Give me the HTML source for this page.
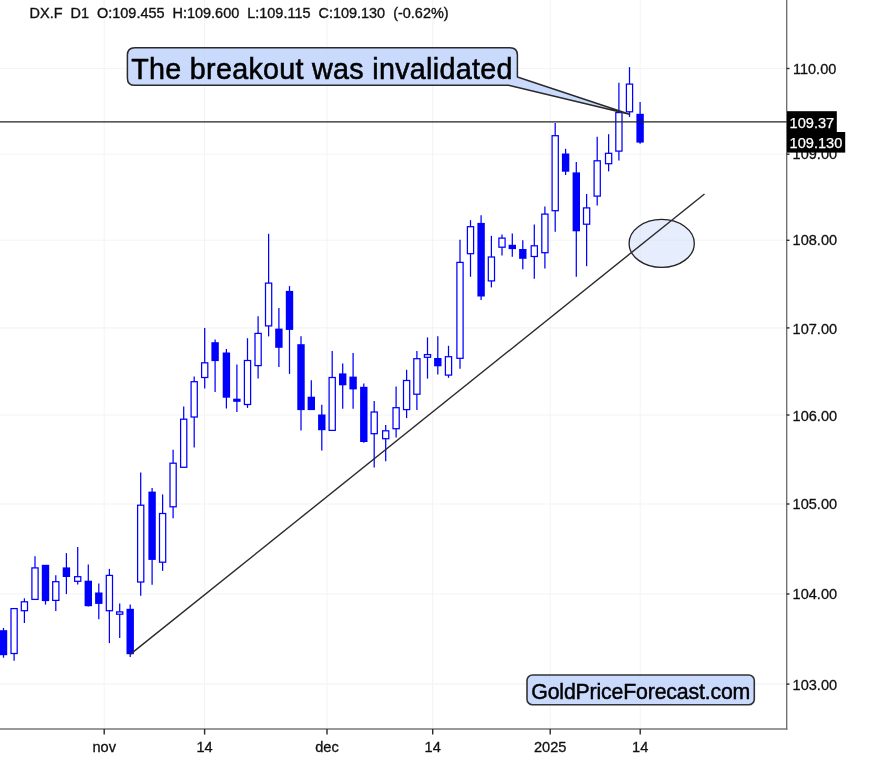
<!DOCTYPE html>
<html lang="en"><head><meta charset="utf-8"><title>DX.F D1</title>
<style>html,body{margin:0;padding:0;background:#fff;}body{width:875px;height:760px;overflow:hidden;}svg{display:block;}text{font-family:"Liberation Sans",Arial,Helvetica,sans-serif;}</style></head><body>
<svg width="875" height="760" viewBox="0 0 875 760">
<rect width="875" height="760" fill="#fff"/>
<g stroke="#f4f4f4" stroke-width="1.1" fill="none">
<line x1="104.2" y1="0" x2="104.2" y2="729.0"/>
<line x1="204.6" y1="0" x2="204.6" y2="729.0"/>
<line x1="327.0" y1="0" x2="327.0" y2="729.0"/>
<line x1="432.7" y1="0" x2="432.7" y2="729.0"/>
<line x1="550.2" y1="0" x2="550.2" y2="729.0"/>
<line x1="640.2" y1="0" x2="640.2" y2="729.0"/>
<line x1="0" y1="68.5" x2="786.7" y2="68.5"/>
<line x1="0" y1="154.2" x2="786.7" y2="154.2"/>
<line x1="0" y1="240.3" x2="786.7" y2="240.3"/>
<line x1="0" y1="327.9" x2="786.7" y2="327.9"/>
<line x1="0" y1="415.0" x2="786.7" y2="415.0"/>
<line x1="0" y1="504.0" x2="786.7" y2="504.0"/>
<line x1="0" y1="594.0" x2="786.7" y2="594.0"/>
<line x1="0" y1="684.1" x2="786.7" y2="684.1"/>
</g>
<g stroke="#0000ff" stroke-width="1.25" fill="#fff">
<line x1="3.5" y1="628.0" x2="3.5" y2="657.7"/>
<rect x="-0.20" y="630.20" width="7.4" height="25.00" fill="#0000ff" stroke="none"/>
<line x1="14.1" y1="608.4" x2="14.1" y2="660.7"/>
<rect x="11.00" y="608.60" width="6.20" height="44.90"/>
<line x1="24.4" y1="598.3" x2="24.4" y2="623.0"/>
<rect x="21.30" y="601.80" width="6.20" height="8.90"/>
<line x1="35.0" y1="556.3" x2="35.0" y2="599.6"/>
<rect x="31.90" y="567.90" width="6.20" height="31.50"/>
<line x1="45.5" y1="565.1" x2="45.5" y2="604.6"/>
<rect x="41.80" y="564.80" width="7.4" height="36.30" fill="#0000ff" stroke="none"/>
<line x1="55.8" y1="575.2" x2="55.8" y2="610.9"/>
<rect x="52.70" y="581.70" width="6.20" height="18.70"/>
<line x1="66.4" y1="553.1" x2="66.4" y2="594.1"/>
<rect x="62.70" y="567.40" width="7.4" height="9.60" fill="#0000ff" stroke="none"/>
<line x1="77.7" y1="547.0" x2="77.7" y2="584.5"/>
<rect x="74.60" y="576.70" width="6.20" height="4.60"/>
<line x1="88.3" y1="564.6" x2="88.3" y2="606.6"/>
<rect x="84.60" y="580.70" width="7.4" height="25.50" fill="#0000ff" stroke="none"/>
<line x1="98.8" y1="583.5" x2="98.8" y2="619.2"/>
<rect x="95.10" y="592.50" width="7.4" height="11.40" fill="#0000ff" stroke="none"/>
<line x1="109.4" y1="568.9" x2="109.4" y2="643.1"/>
<rect x="106.30" y="575.40" width="6.20" height="35.30"/>
<line x1="119.7" y1="603.4" x2="119.7" y2="638.1"/>
<rect x="116.60" y="611.90" width="6.20" height="2.30"/>
<line x1="130.2" y1="604.6" x2="130.2" y2="656.9"/>
<rect x="126.50" y="608.80" width="7.4" height="45.40" fill="#0000ff" stroke="none"/>
<line x1="140.7" y1="472.5" x2="140.7" y2="595.8"/>
<rect x="137.60" y="505.20" width="6.20" height="76.80"/>
<line x1="152.1" y1="488.1" x2="152.1" y2="584.8"/>
<rect x="148.40" y="491.60" width="7.4" height="68.30" fill="#0000ff" stroke="none"/>
<line x1="162.6" y1="494.4" x2="162.6" y2="570.9"/>
<rect x="159.50" y="513.50" width="6.20" height="48.70"/>
<line x1="173.1" y1="449.7" x2="173.1" y2="518.3"/>
<rect x="170.00" y="463.20" width="6.20" height="43.60"/>
<line x1="183.7" y1="406.5" x2="183.7" y2="467.5"/>
<rect x="180.60" y="419.20" width="6.20" height="48.10"/>
<line x1="194.2" y1="376.4" x2="194.2" y2="447.4"/>
<rect x="191.10" y="381.70" width="6.20" height="35.30"/>
<line x1="204.7" y1="328.1" x2="204.7" y2="388.6"/>
<rect x="201.60" y="362.80" width="6.20" height="14.70"/>
<line x1="215.1" y1="339.4" x2="215.1" y2="392.0"/>
<rect x="211.40" y="342.20" width="7.4" height="18.90" fill="#0000ff" stroke="none"/>
<line x1="226.4" y1="349.0" x2="226.4" y2="408.5"/>
<rect x="222.70" y="352.50" width="7.4" height="45.20" fill="#0000ff" stroke="none"/>
<line x1="236.9" y1="364.6" x2="236.9" y2="411.9"/>
<rect x="233.20" y="398.70" width="7.4" height="3.10" fill="#0000ff" stroke="none"/>
<line x1="247.5" y1="338.2" x2="247.5" y2="407.9"/>
<rect x="244.40" y="360.50" width="6.20" height="44.00"/>
<line x1="258.1" y1="316.3" x2="258.1" y2="378.4"/>
<rect x="255.00" y="333.40" width="6.20" height="32.20"/>
<line x1="268.6" y1="233.8" x2="268.6" y2="336.4"/>
<rect x="265.50" y="283.10" width="6.20" height="42.80"/>
<line x1="278.9" y1="308.0" x2="278.9" y2="367.1"/>
<rect x="275.20" y="328.60" width="7.4" height="19.20" fill="#0000ff" stroke="none"/>
<line x1="289.5" y1="286.1" x2="289.5" y2="373.9"/>
<rect x="285.80" y="290.90" width="7.4" height="39.00" fill="#0000ff" stroke="none"/>
<line x1="301.0" y1="336.3" x2="301.0" y2="430.5"/>
<rect x="297.30" y="344.20" width="7.4" height="65.90" fill="#0000ff" stroke="none"/>
<line x1="311.3" y1="380.3" x2="311.3" y2="409.8"/>
<rect x="307.60" y="396.70" width="7.4" height="13.40" fill="#0000ff" stroke="none"/>
<line x1="321.8" y1="404.7" x2="321.8" y2="450.6"/>
<rect x="318.10" y="414.50" width="7.4" height="15.70" fill="#0000ff" stroke="none"/>
<line x1="332.2" y1="350.9" x2="332.2" y2="430.6"/>
<rect x="329.10" y="377.50" width="6.20" height="52.90"/>
<line x1="342.7" y1="363.4" x2="342.7" y2="408.8"/>
<rect x="339.00" y="373.40" width="7.4" height="11.90" fill="#0000ff" stroke="none"/>
<line x1="353.1" y1="353.0" x2="353.1" y2="408.8"/>
<rect x="349.40" y="376.60" width="7.4" height="12.80" fill="#0000ff" stroke="none"/>
<line x1="363.8" y1="383.4" x2="363.8" y2="442.7"/>
<rect x="360.10" y="386.80" width="7.4" height="55.20" fill="#0000ff" stroke="none"/>
<line x1="374.2" y1="401.1" x2="374.2" y2="467.6"/>
<rect x="371.10" y="412.00" width="6.20" height="21.70"/>
<line x1="385.7" y1="425.1" x2="385.7" y2="461.3"/>
<rect x="382.60" y="430.80" width="6.20" height="7.90"/>
<line x1="396.1" y1="386.6" x2="396.1" y2="437.4"/>
<rect x="393.00" y="407.70" width="6.20" height="21.00"/>
<line x1="406.6" y1="369.8" x2="406.6" y2="418.1"/>
<rect x="403.50" y="380.50" width="6.20" height="29.10"/>
<line x1="416.9" y1="350.9" x2="416.9" y2="410.0"/>
<rect x="413.80" y="358.70" width="6.20" height="35.50"/>
<line x1="427.5" y1="337.4" x2="427.5" y2="378.6"/>
<rect x="424.40" y="354.60" width="6.20" height="2.70"/>
<line x1="437.8" y1="336.3" x2="437.8" y2="374.6"/>
<rect x="434.10" y="358.00" width="7.4" height="8.30" fill="#0000ff" stroke="none"/>
<line x1="448.5" y1="345.8" x2="448.5" y2="377.8"/>
<rect x="445.40" y="356.70" width="6.20" height="18.40"/>
<line x1="460.0" y1="239.8" x2="460.0" y2="368.8"/>
<rect x="456.90" y="262.40" width="6.20" height="95.90"/>
<line x1="470.5" y1="220.2" x2="470.5" y2="276.8"/>
<rect x="467.40" y="226.70" width="6.20" height="27.00"/>
<line x1="481.1" y1="215.2" x2="481.1" y2="299.9"/>
<rect x="477.40" y="222.90" width="7.4" height="73.60" fill="#0000ff" stroke="none"/>
<line x1="491.4" y1="235.8" x2="491.4" y2="287.4"/>
<rect x="488.30" y="257.00" width="6.20" height="23.90"/>
<line x1="502.0" y1="234.6" x2="502.0" y2="255.4"/>
<rect x="498.90" y="238.10" width="6.20" height="9.10"/>
<line x1="512.3" y1="233.6" x2="512.3" y2="256.7"/>
<rect x="508.60" y="244.80" width="7.4" height="4.30" fill="#0000ff" stroke="none"/>
<line x1="522.8" y1="240.3" x2="522.8" y2="269.3"/>
<rect x="519.10" y="249.00" width="7.4" height="9.80" fill="#0000ff" stroke="none"/>
<line x1="534.3" y1="224.4" x2="534.3" y2="278.8"/>
<rect x="531.20" y="245.80" width="6.20" height="10.70"/>
<line x1="544.9" y1="206.5" x2="544.9" y2="268.5"/>
<rect x="541.80" y="214.10" width="6.20" height="38.60"/>
<line x1="555.2" y1="122.9" x2="555.2" y2="231.7"/>
<rect x="552.10" y="135.70" width="6.20" height="75.00"/>
<line x1="565.6" y1="148.8" x2="565.6" y2="175.0"/>
<rect x="561.90" y="153.50" width="7.4" height="18.20" fill="#0000ff" stroke="none"/>
<line x1="576.3" y1="161.9" x2="576.3" y2="276.8"/>
<rect x="572.60" y="172.40" width="7.4" height="58.90" fill="#0000ff" stroke="none"/>
<line x1="586.6" y1="194.0" x2="586.6" y2="266.2"/>
<rect x="583.50" y="207.90" width="6.20" height="16.30"/>
<line x1="597.2" y1="136.7" x2="597.2" y2="205.5"/>
<rect x="594.10" y="160.80" width="6.20" height="35.30"/>
<line x1="608.6" y1="134.2" x2="608.6" y2="171.4"/>
<rect x="605.50" y="153.30" width="6.20" height="10.40"/>
<line x1="618.9" y1="82.7" x2="618.9" y2="160.6"/>
<rect x="615.80" y="112.60" width="6.20" height="38.50"/>
<line x1="629.5" y1="67.1" x2="629.5" y2="116.9"/>
<rect x="626.40" y="84.10" width="6.20" height="27.70"/>
<line x1="640.1" y1="102.0" x2="640.1" y2="143.8"/>
<rect x="636.40" y="113.80" width="7.4" height="28.80" fill="#0000ff" stroke="none"/>
</g>
<line x1="786.7" y1="0" x2="786.7" y2="729.8" stroke="#686868" stroke-width="1.3"/>
<line x1="0" y1="729.0" x2="787.35" y2="729.0" stroke="#777" stroke-width="1.6"/>
<g stroke="#2a2a2a" stroke-width="1.4" fill="none">
<line x1="104.2" y1="729.0" x2="104.2" y2="734.6"/>
<line x1="204.6" y1="729.0" x2="204.6" y2="734.6"/>
<line x1="327.0" y1="729.0" x2="327.0" y2="734.6"/>
<line x1="432.7" y1="729.0" x2="432.7" y2="734.6"/>
<line x1="550.2" y1="729.0" x2="550.2" y2="734.6"/>
<line x1="640.2" y1="729.0" x2="640.2" y2="734.6"/>
<line x1="786.7" y1="68.5" x2="789.5" y2="68.5"/>
<line x1="786.7" y1="154.2" x2="789.5" y2="154.2"/>
<line x1="786.7" y1="240.3" x2="789.5" y2="240.3"/>
<line x1="786.7" y1="327.9" x2="789.5" y2="327.9"/>
<line x1="786.7" y1="415.0" x2="789.5" y2="415.0"/>
<line x1="786.7" y1="504.0" x2="789.5" y2="504.0"/>
<line x1="786.7" y1="594.0" x2="789.5" y2="594.0"/>
<line x1="786.7" y1="684.1" x2="789.5" y2="684.1"/>
</g>
<g font-size="14.9" fill="#111" stroke="#111" stroke-width="0.3">
<text x="793.0" y="73.50" textLength="43.3" lengthAdjust="spacingAndGlyphs">110.00</text>
<text x="792.6" y="159.40" textLength="44.5" lengthAdjust="spacingAndGlyphs">109.00</text>
<text x="792.6" y="245.05" textLength="44.5" lengthAdjust="spacingAndGlyphs">108.00</text>
<text x="792.6" y="333.65" textLength="44.5" lengthAdjust="spacingAndGlyphs">107.00</text>
<text x="792.6" y="420.50" textLength="44.5" lengthAdjust="spacingAndGlyphs">106.00</text>
<text x="792.6" y="509.40" textLength="44.5" lengthAdjust="spacingAndGlyphs">105.00</text>
<text x="792.6" y="599.40" textLength="44.5" lengthAdjust="spacingAndGlyphs">104.00</text>
<text x="792.6" y="689.50" textLength="44.5" lengthAdjust="spacingAndGlyphs">103.00</text>
<text x="104.2" y="752.0" font-size="14.6" text-anchor="middle">nov</text>
<text x="204.6" y="752.0" font-size="14.6" text-anchor="middle">14</text>
<text x="327.0" y="752.0" font-size="14.6" text-anchor="middle">dec</text>
<text x="432.7" y="752.0" font-size="14.6" text-anchor="middle">14</text>
<text x="550.2" y="752.0" font-size="14.6" text-anchor="middle">2025</text>
<text x="640.2" y="752.0" font-size="14.6" text-anchor="middle">14</text>
</g>
<text x="29.6" y="18.2" font-size="14.8" textLength="419" lengthAdjust="spacingAndGlyphs" fill="#111" stroke="#111" stroke-width="0.35" xml:space="preserve" style="white-space:pre">DX.F  D1  O:109.455  H:109.600  L:109.115  C:109.130  (-0.62%)</text>
<line x1="0" y1="121.8" x2="786.7" y2="121.8" stroke="#222" stroke-width="1.25"/>
<ellipse cx="661.7" cy="243.4" rx="32.6" ry="24" fill="#c8d8fa" fill-opacity="0.46" stroke="#222" stroke-width="1.3"/>
<line x1="130.2" y1="654.4" x2="704.5" y2="194.0" stroke="#2a2a2a" stroke-width="1.4"/>
<rect x="787" y="111.2" width="49.8" height="20.8" fill="#000"/>
<rect x="787" y="132" width="58.2" height="20.6" fill="#000"/>
<text x="789.6" y="128.05" font-size="14.6" fill="#fff" stroke="#fff" stroke-width="0.25">109.37</text>
<text x="789.6" y="148.1" font-size="14.6" fill="#fff" stroke="#fff" stroke-width="0.25">109.130</text>
<path d="M134.8 47.7 H510.0 Q517.4 47.7 517.4 55.1 V77.0 L629.5 114.2 L508.5 85.3 H134.8 Q127.4 85.3 127.4 77.9 V55.1 Q127.4 47.7 134.8 47.7 Z" fill="rgb(183,206,251)" fill-opacity="0.75" stroke="#2a2a2a" stroke-width="1.5" stroke-linejoin="round"/>
<text x="131.2" y="79.2" font-size="28.7" textLength="381.2" fill="#000" stroke="#000" stroke-width="0.55">The breakout was invalidated</text>
<rect x="527" y="675" width="227.3" height="29.7" rx="5.5" ry="5.5" fill="rgb(183,206,251)" fill-opacity="0.75" stroke="#333" stroke-width="1.6"/>
<text x="531.3" y="698.9" font-size="21.3" textLength="219" fill="#000" stroke="#000" stroke-width="0.45">GoldPriceForecast.com</text>
</svg></body></html>
